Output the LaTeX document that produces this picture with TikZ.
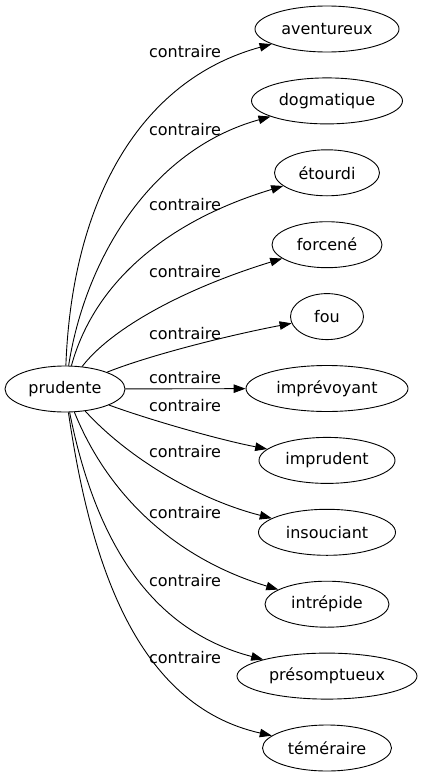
\documentclass[tikz,border=0pt]{standalone}
\usepackage{fontspec}
\setmainfont{DejaVu Sans}
\usetikzlibrary{shapes.geometric,arrows.meta}
\begin{document}
\begin{tikzpicture}[x=1pt,y=-1pt,
  nd/.style={ellipse,draw,line width=0.9pt,minimum height=46pt,inner sep=0pt,font=\fontsize{16}{18}\selectfont},
  lab/.style={font=\fontsize{16}{18}\selectfont,inner sep=0pt},
  ed/.style={line width=0.9pt,-{Triangle[length=12pt,width=8.5pt]}}]
\useasboundingbox (0,0) rectangle (422,779);
\node[nd,minimum width=120pt] (p) at (65,389) {prudente};
\node[nd,minimum width=144pt] (a1) at (327,29) {aventureux};
\node[nd,minimum width=151pt] (a2) at (327,100.9) {dogmatique};
\node[nd,minimum width=105pt] (a3) at (327,172.8) {étourdi};
\node[nd,minimum width=110pt] (a4) at (327,244.7) {forcené};
\node[nd,minimum width=73pt] (a5) at (327,316.6) {fou};
\node[nd,minimum width=162pt] (a6) at (327,388.5) {imprévoyant};
\node[nd,minimum width=136pt] (a7) at (327,460.4) {imprudent};
\node[nd,minimum width=137pt] (a8) at (327,532.3) {insouciant};
\node[nd,minimum width=124pt] (a9) at (327,604.2) {intrépide};
\node[nd,minimum width=180pt] (a10) at (327,676.1) {présomptueux};
\node[nd,minimum width=129pt] (a11) at (327,748) {téméraire};
\node[lab] (l1) at (185,52) {contraire};
\node[lab] (l2) at (185,130) {contraire};
\node[lab] (l3) at (185,205) {contraire};
\node[lab] (l4) at (185,272) {contraire};
\node[lab] (l5) at (185,334) {contraire};
\node[lab] (l6) at (185,378) {contraire};
\node[lab] (l7) at (185,406) {contraire};
\node[lab] (l8) at (185,452) {contraire};
\node[lab] (l9) at (185,513) {contraire};
\node[lab] (l10) at (185,581) {contraire};
\node[lab] (l11) at (185,658) {contraire};
\draw[ed] (p) .. controls (72,200) and (140,80) .. (a1);
\draw[ed] (p) .. controls (85,260) and (150,150) .. (a2);
\draw[ed] (p) .. controls (95,280) and (170,220) .. (a3);
\draw[ed] (p) .. controls (110,330) and (180,290) .. (a4);
\draw[ed] (p) .. controls (150,355) and (230,335) .. (a5);
\draw[ed] (p) -- (a6);
\draw[ed] (p) .. controls (150,420) and (220,440) .. (a7);
\draw[ed] (p) .. controls (130,460) and (200,500) .. (a8);
\draw[ed] (p) .. controls (110,500) and (180,560) .. (a9);
\draw[ed] (p) .. controls (95,540) and (150,630) .. (a10);
\draw[ed] (p) .. controls (90,560) and (135,705) .. (a11);
\end{tikzpicture}
\end{document}
